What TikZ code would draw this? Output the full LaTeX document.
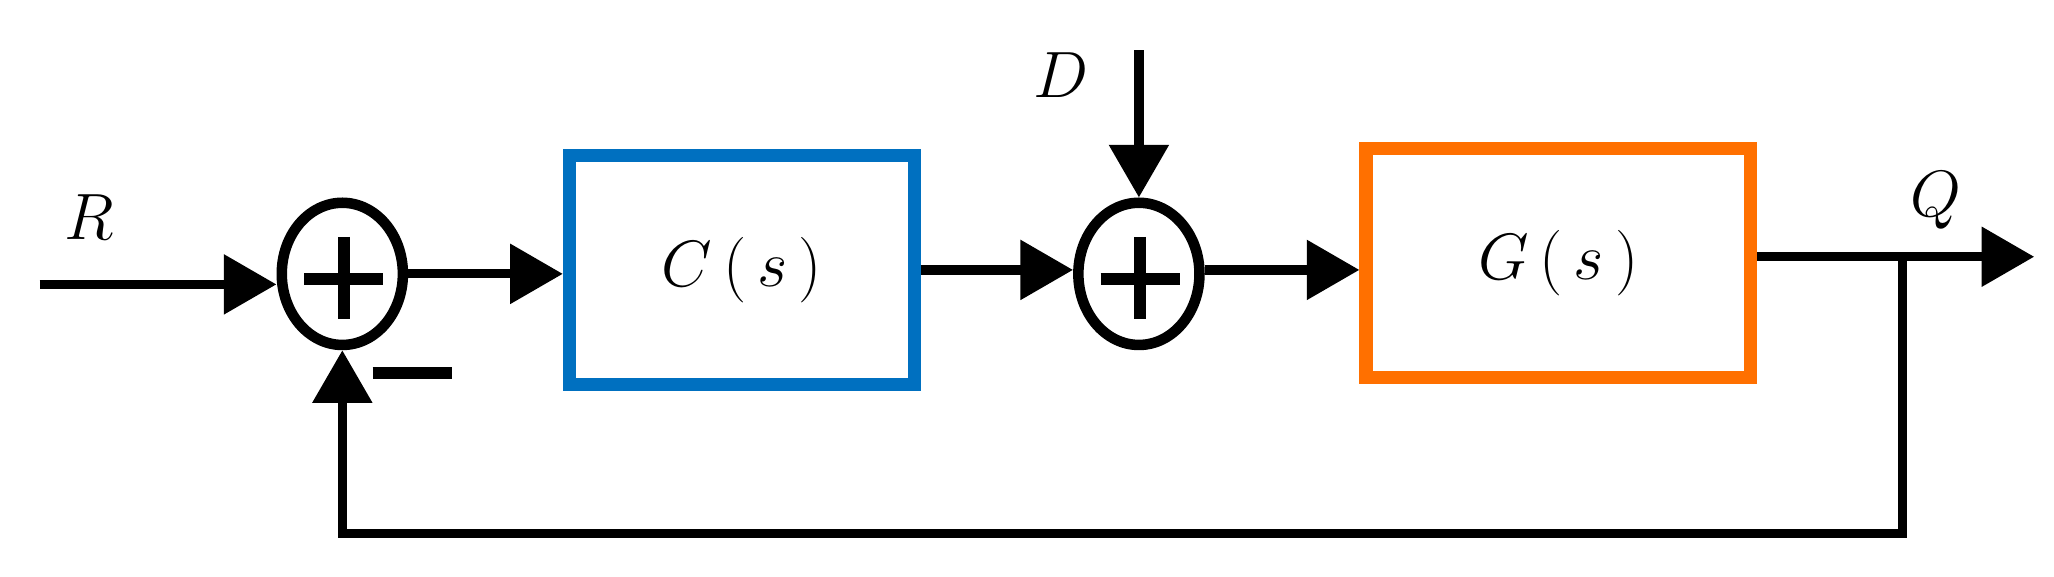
\documentclass[tikz,border=0pt]{standalone}
\usetikzlibrary{arrows.meta,shapes.geometric}
\begin{document}
\begin{tikzpicture}[x=0.5pt,y=-0.5pt,
  ln/.style={line width=3.5pt},
  ar/.style={ln,-{Triangle[length=20pt,width=22pt]}},
  sum/.style={ellipse,draw,line width=4pt,minimum width=46pt,minimum height=54pt,inner sep=0pt},
  blk/.style={draw,line width=5pt,inner sep=0pt},
  big/.style={font=\fontsize{55}{60}\selectfont},
  lab/.style={font=\fontsize{34}{38}\selectfont}]
\useasboundingbox (0,0) rectangle (1560,438);
\node[sum] (s1) at (260,208) {};
\node[sum] (s2) at (865,208) {};
\draw[line width=4.5pt] (231,212)--(291,212) (261,180)--(261,242);
\draw[line width=4.5pt] (836,212)--(896,212) (866,180)--(866,242);
\node[blk,draw={rgb,255:red,0;green,112;blue,192},minimum width=131pt,minimum height=87pt] (C) at (563.5,205) {};
\node[big] at (C) {$C\,(\,s\,)$};
\node[blk,draw={rgb,255:red,255;green,112;blue,0},minimum width=146pt,minimum height=87pt] (G) at (1183.5,200) {};
\node[big] at (G) {$G\,(\,s\,)$};
\coordinate (rin) at (30,216);
\coordinate (dtop) at (865,38);
\coordinate (qout) at (1545,195);
\coordinate (tap) at (1445,195);
\coordinate (fb1) at (1445,405);
\coordinate (fb2) at (260,405);
\draw[ar] (rin) -- (s1.west|-rin);
\draw[ar] (s1.east|-0,208) -- (C.west|-0,208);
\draw[ar] (C.east|-0,205) -- (s2.west|-0,205);
\draw[ar] (s2.east|-0,205) -- (G.west|-0,205);
\draw[ar] (dtop) -- (s2.north);
\draw[ar] (G.east|-qout) -- (qout);
\draw[ar] (tap) -- (fb1) -- (fb2) -- (s1.south);
\node[lab] (R) at (68,165) {$R$};
\node[lab] (D) at (806,57) {$D$};
\node[lab] (Q) at (1470,152) {$Q$};
\draw[line width=4.5pt] (283,283) -- (343,283);
\end{tikzpicture}
\end{document}
